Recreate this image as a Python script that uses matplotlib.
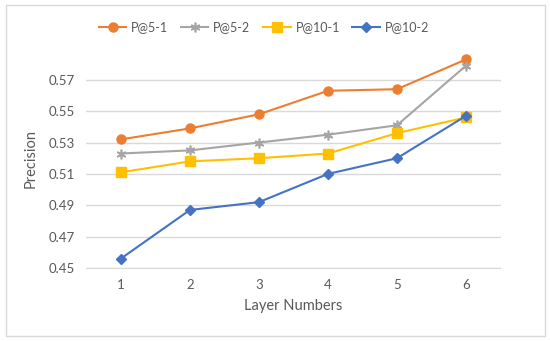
import matplotlib.pyplot as plt
from matplotlib.patches import Rectangle

layers = [1, 2, 3, 4, 5, 6]
p5_1 = [0.532, 0.539, 0.548, 0.563, 0.564, 0.583]
p5_2 = [0.523, 0.525, 0.530, 0.535, 0.541, 0.579]
p10_1 = [0.511, 0.518, 0.520, 0.523, 0.536, 0.546]
p10_2 = [0.456, 0.487, 0.492, 0.510, 0.520, 0.547]
yticks = [0.45, 0.47, 0.49, 0.51, 0.53, 0.55, 0.57]

plt.rcParams['font.family'] = ['Lato', 'DejaVu Sans']
txt = '#595959'

fig = plt.figure(figsize=(5.5, 3.41), dpi=100)
fig.patches.append(Rectangle((0.011, 0.015), 0.98, 0.97, transform=fig.transFigure,
                             fill=False, edgecolor='#d9d9d9', linewidth=1))
ax = fig.add_axes([0.157, 0.214, 0.753, 0.644])

ax.plot(layers, p5_1, color='#ED7D31', marker='o', markersize=6.5, lw=1.5, label='P@5-1')
ax.plot(layers, p5_2, color='#A5A5A5', marker=(6, 2, 0), markersize=7, lw=1.5,
        markeredgewidth=1.2, label='P@5-2')
ax.plot(layers, p10_1, color='#FFC000', marker='s', markersize=6.5, lw=1.5, label='P@10-1')
ax.plot(layers, p10_2, color='#4472C4', marker='D', markersize=5, lw=1.5, label='P@10-2')

ax.set_xlim(0.5, 6.5)
ax.set_ylim(0.45, 0.59)
ax.set_yticks(yticks)
ax.set_yticklabels([f'{v:.2f}' for v in yticks])
ax.set_xticks(layers)
ax.grid(axis='y', color='#d9d9d9', lw=1)
ax.set_axisbelow(True)
for s in ['top', 'right', 'left']:
    ax.spines[s].set_visible(False)
ax.spines['bottom'].set_color('#d9d9d9')
ax.tick_params(length=0, labelsize=9.5, labelcolor=txt, pad=8)
ax.set_xlabel('Layer Numbers', fontsize=10.5, color=txt, labelpad=6)
ax.set_ylabel('Precision', fontsize=10.5, color=txt, labelpad=8)

fig.legend(loc='center', bbox_to_anchor=(0.48, 0.92), ncol=4, frameon=False,
           fontsize=9, labelcolor=txt, handlelength=2.2, columnspacing=1.0,
           handletextpad=0.4)

fig.savefig('out.png', dpi=100)
